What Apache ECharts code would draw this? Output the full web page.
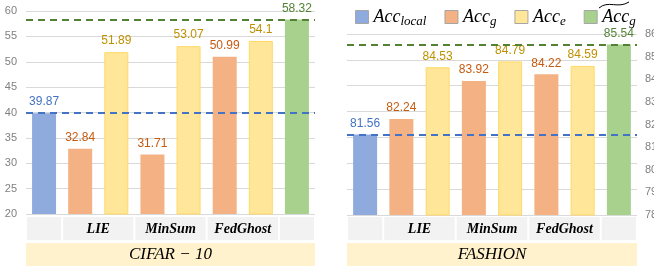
<!DOCTYPE html>
<html>
<head>
<meta charset="utf-8">
<script src="https://cdn.jsdelivr.net/npm/echarts@6/dist/echarts.min.js"></script>
<style>
  html, body { margin: 0; padding: 0; background: #fff; }
  #chart { width: 654px; height: 267px; }
</style>
</head>
<body>
<div id="chart"></div>
<script>
// legend / series names
var seriesNames = ['local', 'g', 'e', 'gt'];
var attackNames = ['LIE', 'MinSum', 'FedGhost'];
var datasetNames = ['CIFAR \u2212 10', 'FASHION'];

// CIFAR-10 values
var cifarLocal = 39.87;
var cifarG = [32.84, 31.71, 50.99];
var cifarE = [51.89, 53.07, 54.1];
var cifarAgg = 58.32;

// FASHION values
var fashionLocal = 81.56;
var fashionG = [82.24, 83.92, 84.22];
var fashionE = [84.53, 84.79, 84.59];
var fashionAgg = 85.54;

// axis ticks
var cifarAxis = [20, 60, 5];
var fashionAxis = [78, 86, 1];

var barColors = ['#8faadc', '#f4b183', '#ffe699', '#a9d18e'];
var labelColors = ['#4472c4', '#c55a11', '#bf9000', '#548235'];

// 8 slots: local | g e | g e | g e | agg
function slots(local, g, e, agg) {
  var out = [[], [], [], []];
  for (var i = 0; i < 8; i++) { out[0].push('-'); out[1].push('-'); out[2].push('-'); out[3].push('-'); }
  out[0][0] = local;
  for (var k = 0; k < 3; k++) {
    out[1][1 + k * 2] = g[k];
    out[2][2 + k * 2] = e[k];
  }
  out[3][7] = agg;
  return out;
}

var gridData = [
  slots(cifarLocal, cifarG, cifarE, cifarAgg),
  slots(fashionLocal, fashionG, fashionE, fashionAgg)
];
var refLines = [[cifarLocal, cifarAgg], [fashionLocal, fashionAgg]];
var yIndex = [0, 1];

var series = [];
for (var gi = 0; gi < 2; gi++) {
  for (var s = 0; s < 4; s++) {
    var item = {
      name: seriesNames[s],
      type: 'bar',
      xAxisIndex: gi,
      yAxisIndex: yIndex[gi],
      barWidth: 24,
      barGap: '-100%',
      data: gridData[gi][s],
      itemStyle: { color: barColors[s] },
      label: {
        show: true,
        position: 'top',
        distance: 5,
        color: labelColors[s],
        fontSize: 12,
        fontFamily: 'Liberation Sans'
      }
    };
    if (s === 2) {
      item.itemStyle.borderColor = '#ffd966';
      item.itemStyle.borderWidth = 1;
    }
    if (s === 0 || s === 3) {
      item.markLine = {
        symbol: 'none',
        silent: true,
        label: { show: false },
        lineStyle: { color: s === 0 ? '#4472c4' : '#548235', type: [7, 5], width: 2 },
        data: [{ yAxis: s === 0 ? refLines[gi][0] : refLines[gi][1] }]
      };
    }
    series.push(item);
  }
}

var richText = {
  a: { fontFamily: 'Liberation Serif', fontStyle: 'italic', fontSize: 18, color: '#000' },
  s: { fontFamily: 'Liberation Serif', fontStyle: 'italic', fontSize: 13, color: '#000', padding: [10, 0, 0, 0] }
};
var legendText = {
  local: '{a|Acc}{s|local}',
  g: '{a|Acc}{s|g}',
  e: '{a|Acc}{s|e}',
  gt: '{a|Acc}{s|g}'
};

var cats = ['0', '1', '2', '3', '4', '5', '6', '7'];
var axisLabelStyle = { color: '#808080', fontSize: 11, fontFamily: 'Liberation Sans' };

var myChart = echarts.init(document.getElementById('chart'));
var options = {
  animation: false,
  legend: {
    left: 350,
    top: 3,
    icon: 'rect',
    itemWidth: 13,
    itemHeight: 13,
    itemGap: 18,
    itemStyle: { borderColor: '#a6a6a6', borderWidth: 1 },
    data: seriesNames,
    formatter: function (name) { return legendText[name]; },
    textStyle: { rich: richText }
  },
  grid: [
    { left: 26, top: 11, width: 289, height: 203, outerBoundsMode: 'none' },
    { left: 347, top: 34, width: 290, height: 181, outerBoundsMode: 'none' }
  ],
  xAxis: [0, 1].map(function (i) {
    return {
      type: 'category',
      gridIndex: i,
      data: cats,
      axisLine: { show: false },
      axisTick: { show: false },
      axisLabel: { show: false }
    };
  }),
  yAxis: [
    {
      gridIndex: 0, type: 'value', position: 'left',
      min: cifarAxis[0], max: cifarAxis[1], interval: cifarAxis[2],
      axisLabel: Object.assign({ margin: 9 }, axisLabelStyle),
      splitLine: { lineStyle: { color: '#d9d9d9' } }
    },
    {
      gridIndex: 1, type: 'value', position: 'right',
      min: fashionAxis[0], max: fashionAxis[1], interval: fashionAxis[2],
      axisLabel: Object.assign({ margin: 8 }, axisLabelStyle),
      splitLine: { show: false }
    },
    {
      // gridlines of the right panel do not follow its tick labels
      gridIndex: 1, type: 'value', position: 'left',
      min: 0, max: 7, interval: 1,
      axisLabel: { show: false },
      splitLine: { lineStyle: { color: '#d9d9d9' } }
    }
  ],
  series: series
};
myChart.setOption(options);

// category boxes and dataset title under each panel
var groups = [[0, 0, ''], [1, 2, attackNames[0]], [3, 4, attackNames[1]], [5, 6, attackNames[2]], [7, 7, '']];
var graphics = [];
for (var gi2 = 0; gi2 < 2; gi2++) {
  var c0 = myChart.convertToPixel({ xAxisIndex: gi2 }, '0');
  var c1 = myChart.convertToPixel({ xAxisIndex: gi2 }, '1');
  var band = c1 - c0;
  var start = c0 - band / 2;
  groups.forEach(function (g) {
    var x0 = start + g[0] * band + 1;
    var x1 = start + (g[1] + 1) * band - 1;
    graphics.push({ type: 'rect', shape: { x: x0, y: 217, width: x1 - x0, height: 23 }, style: { fill: '#f2f2f2' }, silent: true });
    if (g[2]) {
      graphics.push({
        type: 'text', x: (x0 + x1) / 2, y: 229, silent: true,
        style: { text: g[2], font: 'italic bold 14px "Liberation Serif"', fill: '#000', textAlign: 'center', textVerticalAlign: 'middle' }
      });
    }
  });
  graphics.push({ type: 'rect', shape: { x: start, y: 243, width: band * 8, height: 23 }, style: { fill: '#fff2cc' }, silent: true });
  graphics.push({
    type: 'text', x: start + band * 4, y: 255, silent: true,
    style: { text: datasetNames[gi2], font: 'italic 17px "Liberation Serif"', fill: '#000', textAlign: 'center', textVerticalAlign: 'middle' }
  });
}
// wide tilde over the last legend entry
graphics.push({
  type: 'bezierCurve', silent: true,
  shape: { x1: 599, y1: 8, cpx1: 608, cpy1: 0, cpx2: 618, cpy2: 9, x2: 629, y2: 2 },
  style: { fill: 'none', stroke: '#000', lineWidth: 1 }
});
myChart.setOption({ graphic: graphics });
</script>
</body>
</html>
